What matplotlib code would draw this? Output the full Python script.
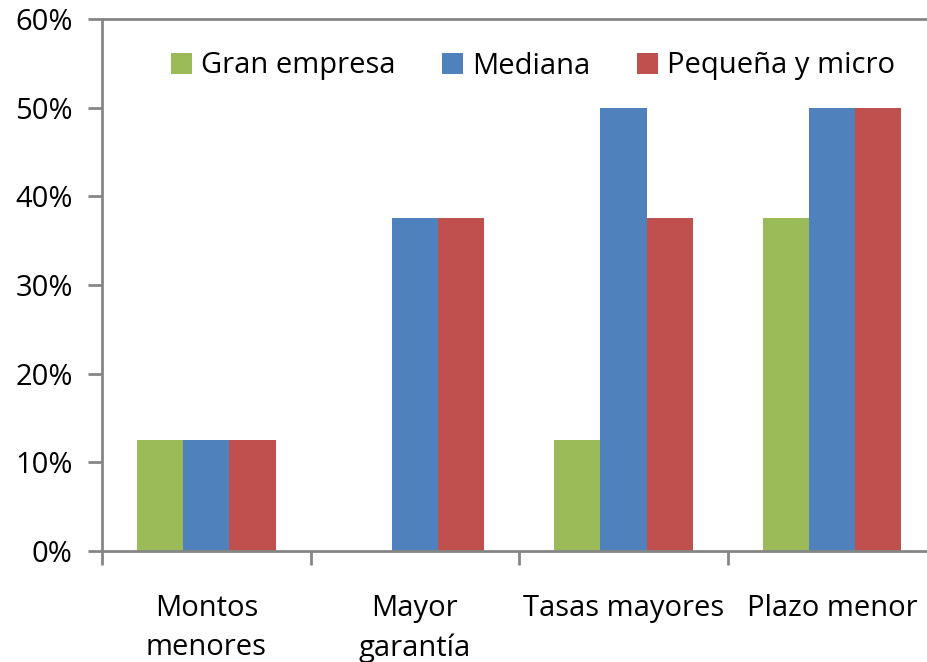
import matplotlib
matplotlib.use("Agg")
import matplotlib.pyplot as plt
import numpy as np
from matplotlib.ticker import FuncFormatter

categories = ["Montos\nmenores", "Mayor\ngarantía", "Tasas mayores", "Plazo menor"]
series_names = ["Gran empresa", "Mediana", "Pequeña y micro"]
gran_empresa = [12.5, 0.0, 12.5, 37.5]
mediana = [12.5, 37.5, 50.0, 50.0]
pequena_micro = [12.5, 37.5, 37.5, 50.0]
colors = ["#9BBB59", "#4F81BD", "#C0504D"]

plt.rcParams["font.family"] = ["Open Sans", "DejaVu Sans"]
FS = 21

fig = plt.figure(figsize=(9.28, 6.62), dpi=100)
ax = fig.add_axes([0.1099, 0.1677, 0.899, 0.8036])

x = np.arange(len(categories))
width = 0.222
for i, (vals, name, c) in enumerate(zip([gran_empresa, mediana, pequena_micro], series_names, colors)):
    ax.bar(x + (i - 1) * width, vals, width, color=c, label=name, zorder=2)

ax.set_xlim(-0.5, len(categories) - 0.5)
ax.set_ylim(0, 60)
ax.set_yticks(np.arange(0, 61, 10))
ax.yaxis.set_major_formatter(FuncFormatter(lambda v, p: f"{int(v)}%"))

ax.set_xticks(x)
ax.set_xticklabels(categories)
ax.set_xticks(np.arange(-0.5, len(categories), 1), minor=True)
ax.tick_params(axis="x", which="major", length=0, pad=31, labelsize=FS)
ax.tick_params(axis="x", which="minor", length=10, width=2, color="#868686")
ax.tick_params(axis="y", length=10, width=2, color="#868686", pad=11, labelsize=FS)
for lbl in ax.get_xticklabels():
    lbl.set_linespacing(1.45)

for side in ["left", "bottom", "top", "right"]:
    ax.spines[side].set_color("#868686")
    ax.spines[side].set_linewidth(2)

leg = ax.legend(loc="center", bbox_to_anchor=(533 / 928, 1 - 66 / 662),
                bbox_transform=fig.transFigure, ncol=3, frameon=False,
                fontsize=FS, handlelength=0.72, handleheight=0.72,
                handletextpad=0.3, columnspacing=1.6)

fig.savefig("out.png", dpi=100)
